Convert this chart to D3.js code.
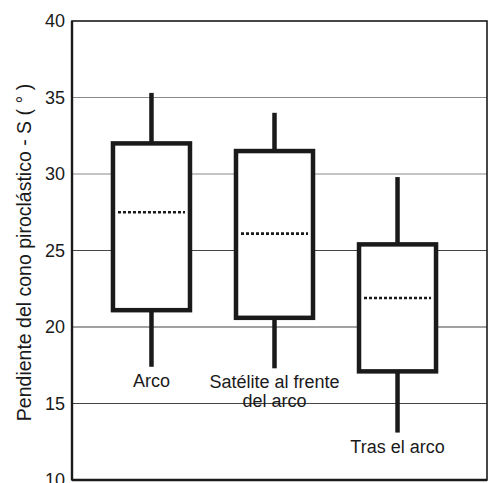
<!DOCTYPE html>
<html>
<head>
<meta charset="utf-8">
<script src="https://cdn.jsdelivr.net/npm/d3@7"></script>
<style>
  body { margin: 0; background: #fff; }
  svg { display: block; font-family: 'Liberation Sans', Arial, sans-serif; }
</style>
</head>
<body>
<div id="chart"></div>
<script>
// categories and box statistics (pendiente S, grados)
const categories = ['Arco', 'Satélite al frente del arco', 'Tras el arco'];
const labelLines = [['Arco'], ['Satélite al frente', 'del arco'], ['Tras el arco']];
const whiskerLow = [17.4, 17.3, 13.1];
const q1 = [21.1, 20.6, 17.1];
const median = [27.5, 26.1, 21.9];
const q3 = [32.0, 31.5, 25.4];
const whiskerHigh = [35.3, 34.0, 29.8];
const yTicks = [10, 15, 20, 25, 30, 35, 40];

const W = 488, H = 483;
const plotLeft = 72, plotRight = 487, plotTop = 21, plotBottom = 480;
const ink = '#1a1a1a';

const svg = d3.select('#chart').append('svg')
    .attr('width', W).attr('height', H);

const y = d3.scaleLinear().domain([10, 40]).range([plotBottom, plotTop]);
const x = d3.scaleBand().domain(categories).range([plotLeft, 477])
    .paddingInner(0.374).paddingOuter(0.333);

// grid lines
svg.append('g').selectAll('line.grid')
    .data(yTicks.filter(t => t > 10 && t < 40))
    .join('line').attr('class', 'grid')
    .attr('x1', plotLeft).attr('x2', plotRight)
    .attr('y1', d => y(d)).attr('y2', d => y(d))
    .attr('stroke', d => d >= 30 ? '#8a8a8a' : '#444')
    .attr('stroke-width', 1.2);

// frame
svg.append('rect')
    .attr('x', plotLeft).attr('y', plotTop)
    .attr('width', plotRight - plotLeft).attr('height', plotBottom - plotTop)
    .attr('fill', 'none').attr('stroke', ink).attr('stroke-width', 1.6);
svg.append('line')
    .attr('x1', plotLeft).attr('x2', plotLeft).attr('y1', plotTop).attr('y2', plotBottom)
    .attr('stroke', ink).attr('stroke-width', 2.4);
svg.append('line')
    .attr('x1', plotLeft).attr('x2', plotRight).attr('y1', plotBottom).attr('y2', plotBottom)
    .attr('stroke', ink).attr('stroke-width', 2.4);

// y axis tick labels
const yAxis = d3.axisLeft(y).tickValues(yTicks).tickSize(0).tickPadding(7);
const gy = svg.append('g').attr('transform', `translate(${plotLeft},0)`).call(yAxis);
gy.select('.domain').remove();
gy.selectAll('text').attr('font-size', 18).attr('fill', ink)
    .attr('font-family', "'Liberation Sans', Arial, sans-serif");

// y axis title
svg.append('text')
    .attr('transform', `translate(31,${(plotTop + plotBottom) / 2 + 2}) rotate(-90)`)
    .attr('text-anchor', 'middle')
    .attr('font-size', 19.5).attr('fill', ink)
    .text('Pendiente del cono piroclástico - S ( ° )');

// boxes
const boxes = svg.append('g').selectAll('g.box')
    .data(categories.map((c, i) => ({ c, i })))
    .join('g').attr('class', 'box');

const cx = d => x(d.c) + x.bandwidth() / 2;

boxes.append('line')
    .attr('x1', cx).attr('x2', cx)
    .attr('y1', d => y(whiskerHigh[d.i])).attr('y2', d => y(q3[d.i]))
    .attr('stroke', ink).attr('stroke-width', 4.5);
boxes.append('line')
    .attr('x1', cx).attr('x2', cx)
    .attr('y1', d => y(q1[d.i])).attr('y2', d => y(whiskerLow[d.i]))
    .attr('stroke', ink).attr('stroke-width', 4.5);
boxes.append('rect')
    .attr('x', d => x(d.c)).attr('width', x.bandwidth())
    .attr('y', d => y(q3[d.i])).attr('height', d => y(q1[d.i]) - y(q3[d.i]))
    .attr('fill', '#fff').attr('stroke', ink).attr('stroke-width', 4.5);
boxes.append('line')
    .attr('x1', d => x(d.c) + 5).attr('x2', d => x(d.c) + x.bandwidth() - 5)
    .attr('y1', d => y(median[d.i])).attr('y2', d => y(median[d.i]))
    .attr('stroke', ink).attr('stroke-width', 2.6)
    .attr('stroke-dasharray', '3,2');

// category labels under the lower whisker
boxes.each(function(d) {
    const t = d3.select(this).append('text')
        .attr('text-anchor', 'middle')
        .attr('font-size', 18).attr('fill', ink)
        .attr('y', y(whiskerLow[d.i]) + 20);
    labelLines[d.i].forEach((line, k) => {
        t.append('tspan').attr('x', cx(d)).attr('dy', k === 0 ? 0 : 19).text(line);
    });
});
</script>
</body>
</html>
